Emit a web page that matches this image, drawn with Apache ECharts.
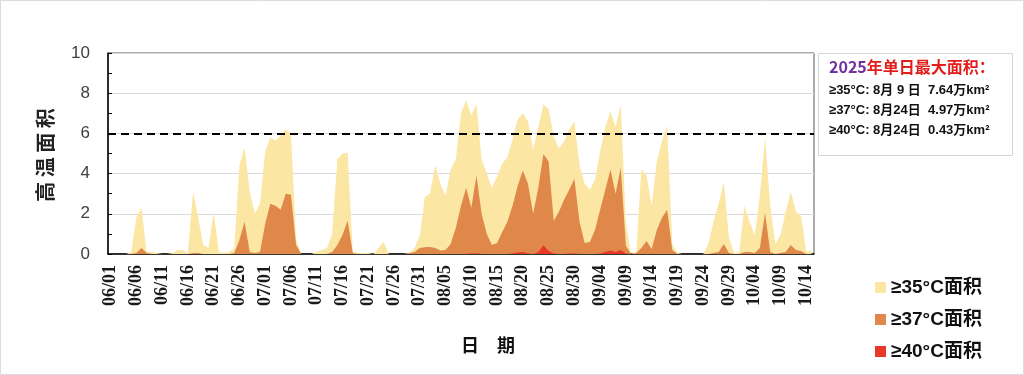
<!DOCTYPE html>
<html><head><meta charset="utf-8">
<script src="https://cdn.jsdelivr.net/npm/echarts/dist/echarts.min.js"></script>
<style>html,body{margin:0;padding:0;background:#fff}#c{width:1024px;height:375px}</style>
</head><body><div id="c"></div>
<script>
// categories: daily dates 06/01 .. 10/15
const months = ['06','07','08','09','10'];
const monthLen = [30, 31, 31, 30, 15];
const dates = [];
months.forEach((m, k) => { for (let d = 1; d <= monthLen[k]; d++) dates.push(m + '/' + String(d).padStart(2, '0')); });

// ≥35°C area (10^4 km²)
const area35 = [
 0,0,0,0,0.1,1.8,2.3,0.1,0.1,0.05,
 0,0,0.05,0.2,0.2,0.05,3.1,1.8,0.45,0.3,
 2.1,0.1,0.05,0.1,0.3,4.4,5.3,3.1,2.0,2.5,
 5.1,5.8,5.65,5.9,6.2,6.0,0.7,0,0,0,
 0.1,0.2,0.3,1.0,4.7,5.0,5.05,0.1,0.05,0.05,
 0.05,0,0.3,0.6,0,0,0,0,0.05,0.3,
 0.9,2.85,3.0,4.43,3.5,2.9,4.2,4.7,7.0,7.64,
 6.9,7.45,4.7,4.0,3.3,3.85,4.5,4.8,5.7,6.7,
 7.0,6.6,5.2,6.3,7.45,7.2,5.85,5.25,5.6,6.2,
 6.6,4.4,3.5,3.2,3.7,5.1,6.3,7.1,6.3,7.45,
 1.5,0,0.1,4.2,3.9,2.4,4.6,5.6,6.4,0.5,
 0.05,0,0,0,0,0,0.5,1.6,2.5,3.6,
 0.8,0.05,0.1,2.4,1.6,0.95,2.9,5.8,2.4,0.5,
 0.95,2.1,3.1,2.1,1.9,0.1,0.2
];
// ≥37°C area
const area37 = [
 0,0,0,0,0,0.05,0.3,0.05,0,0,
 0,0,0,0,0,0,0.05,0.05,0,0,
 0,0,0,0,0.05,0.7,1.6,0.1,0.05,0.1,
 1.5,2.5,2.4,2.2,3.0,2.95,0.45,0,0,0,
 0,0,0,0.1,0.45,0.95,1.65,0.05,0,0,
 0,0,0,0,0,0,0,0,0.05,0.1,
 0.3,0.33,0.35,0.3,0.17,0.2,0.5,1.3,2.4,3.3,
 2.3,3.9,2.0,1.0,0.45,0.55,1.1,1.6,2.4,3.4,
 4.15,3.5,2.0,3.3,4.97,4.6,1.65,2.1,2.7,3.2,
 3.75,1.6,0.55,0.6,1.2,2.2,3.2,4.2,3.0,4.3,
 0.4,0,0.05,0.3,0.65,0.25,1.2,1.8,2.2,0.2,
 0,0,0,0,0,0,0,0.05,0.1,0.5,
 0.05,0,0,0.1,0.1,0.05,0.3,2.05,0.1,0,
 0.05,0.1,0.45,0.2,0.15,0,0
];
// ≥40°C area
const area40 = [
 0,0,0,0,0,0,0,0,0,0,
 0,0,0,0,0,0,0,0,0,0,
 0,0,0,0,0,0,0,0,0,0,
 0,0,0,0,0,0,0,0,0,0,
 0,0,0,0,0,0,0,0,0,0,
 0,0,0,0,0,0,0,0,0,0,
 0,0,0,0,0,0,0,0,0,0,
 0.03,0.03,0,0,0,0,0,0,0.02,0.08,
 0.1,0.03,0,0.1,0.43,0.15,0.02,0,0,0.02,
 0.03,0,0,0,0,0.03,0.1,0.18,0.1,0.2,
 0.02,0,0,0,0,0,0,0,0,0,
 0,0,0,0,0,0,0,0,0,0,
 0,0,0,0,0,0,0,0,0,0,
 0,0,0,0,0,0,0
];
const seriesNames = ['≥35°C面积', '≥37°C面积', '≥40°C面积'];
const seriesColors = ['#fbe6a3', '#e0874a', '#e8382a'];
const thresholdLine = 6;
const infoTitleYear = '2025';
const infoTitleRest = '年单日最大面积：';
const infoLines = ['≥35°C: 8月 9 日  7.64万km²', '≥37°C: 8月24日  4.97万km²', '≥40°C: 8月24日  0.43万km²'];
const yName = '高 温 面 积';
const xName = '日　期';

const CJK = "'Noto Sans CJK SC', 'Noto Sans', sans-serif";
const MIX = "'Liberation Sans', 'Noto Sans CJK SC', sans-serif";
const chart = echarts.init(document.getElementById('c'), null, {renderer: 'canvas'});

function areaSeries(k, data, z) {
  return {
    name: seriesNames[k], type: 'line', data: data, symbol: 'none', showSymbol: false,
    lineStyle: {width: 0}, areaStyle: {color: seriesColors[k], opacity: 1},
    itemStyle: {color: seriesColors[k]}, z: z, animation: false
  };
}
const s40 = areaSeries(2, area40, 4);
s40.markLine = {
  silent: true, symbol: ['none', 'none'], animation: false,
  label: {show: false},
  lineStyle: {color: '#000', type: [8, 5], width: 2},
  data: [{yAxis: thresholdLine}]
};

chart.setOption({
  backgroundColor: '#fff',
  animation: false,
  grid: {left: 108, top: 53, width: 706, height: 201, show: true, borderColor: '#5a5a5a', borderWidth: 1, backgroundColor: 'transparent'},
  xAxis: {
    type: 'category', data: dates, boundaryGap: true,
    axisLine: {lineStyle: {color: '#000', width: 1.5}},
    axisTick: {interval: 4, length: 5, lineStyle: {color: '#000'}},
    axisLabel: {interval: 4, rotate: 90, margin: 11, fontSize: 18, fontWeight: 'bold', fontFamily: "'Liberation Serif', serif", color: '#1a1a1a'},
    splitLine: {show: false}
  },
  yAxis: {
    type: 'value', min: 0, max: 10, interval: 2,
    axisLine: {show: true, lineStyle: {color: '#000', width: 1.5}},
    axisTick: {show: true, inside: true, length: 4, lineStyle: {color: '#000'}},
    minorTick: {show: true, splitNumber: 2, length: 4, lineStyle: {color: '#000'}},
    splitLine: {lineStyle: {color: '#d9d9d9', width: 1}},
    axisLabel: {fontSize: 17, color: '#404040', margin: 18, fontFamily: "'Liberation Sans', Arial, sans-serif"}
  },
  legend: {
    orient: 'vertical', left: 870, top: 273, itemWidth: 11, itemHeight: 11, itemGap: 13,
    icon: 'rect', data: seriesNames,
    textStyle: {fontSize: 19, fontWeight: 'bold', color: '#111', fontFamily: MIX}
  },
  series: [areaSeries(0, area35, 2), areaSeries(1, area37, 3), s40],
  graphic: [
    {type: 'rect', silent: true, shape: {x: 0.5, y: 0.5, width: 1023, height: 374}, style: {fill: 'none', stroke: '#dcdcdc', lineWidth: 1}},
    {type: 'rect', silent: true, shape: {x: 818.5, y: 53.5, width: 194, height: 102}, style: {fill: '#fff', stroke: '#d4d4d4', lineWidth: 1}},
    {type: 'text', silent: true, x: 829, y: 67, style: {
      text: '{a|' + infoTitleYear + '}{b|' + infoTitleRest + '}', verticalAlign: 'middle',
      rich: {
        a: {fill: '#7030a0', fontSize: 16, fontWeight: 'bold', fontFamily: CJK},
        b: {fill: '#e31c1c', fontSize: 16, fontWeight: 'bold', fontFamily: CJK}
      }}},
    ...infoLines.map((t, k) => ({type: 'text', silent: true, x: 829, y: 90 + k * 20,
      style: {text: t, verticalAlign: 'middle', fill: '#111', fontSize: 13, fontWeight: 'bold', fontFamily: MIX}})),
    {type: 'text', silent: true, x: 45, y: 155, rotation: Math.PI / 2,
      style: {text: yName, align: 'center', verticalAlign: 'middle', fill: '#222', fontSize: 20, fontWeight: 'bold', fontFamily: CJK}},
    {type: 'text', silent: true, x: 488, y: 345,
      style: {text: xName, align: 'center', verticalAlign: 'middle', fill: '#111', fontSize: 18, fontWeight: 'bold', fontFamily: CJK}}
  ]
});
</script></body></html>
